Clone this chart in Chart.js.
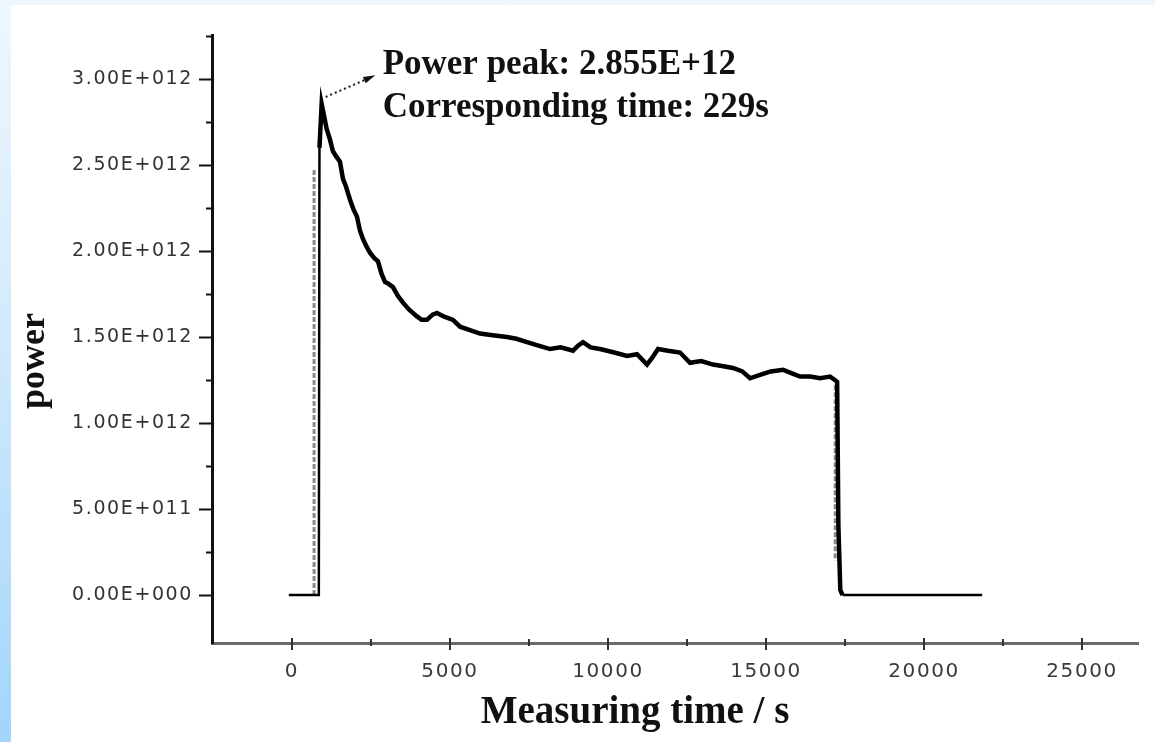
<!DOCTYPE html>
<html><head><meta charset="utf-8">
<script src="https://cdn.jsdelivr.net/npm/chart.js@4.4.0/dist/chart.umd.min.js"></script>
<style>
html,body{margin:0;padding:0;width:1155px;height:742px;overflow:hidden;}
body{background:linear-gradient(to bottom,#eef7fe 0%,#d2eafc 45%,#a2d5fb 100%);position:relative;}
#panel{position:absolute;left:11px;top:5px;right:0;bottom:0;background:#fff;}
#wrap{position:absolute;left:0;top:0;width:1155px;height:742px;}
</style></head><body>
<div id="panel"></div>
<div id="wrap"><canvas id="c"></canvas></div>
<script>
// Measured power curve (time in s, power in units of 1E+12)
const timeS = [-100, 820, 850, 870, 940, 1000, 1098, 1200, 1297, 1400, 1519, 1614, 1700, 1835, 1950, 2057, 2150, 2247, 2350, 2468,
  2600, 2722, 2830, 2943, 3050, 3196, 3350, 3513, 3700, 3956, 4100, 4272, 4450, 4589, 4800, 5095, 5317, 5633, 5949, 6350,
  6804, 7100, 7437, 7800, 8165, 8500, 8893, 9050, 9209, 9450, 9747, 10200, 10601, 10918, 11234, 11400, 11582, 11900, 12279, 12595,
  12950, 13323, 13650, 13956, 14250, 14494, 14810, 15150, 15538, 15800, 16076, 16400, 16709, 17025, 17180, 17250, 17290, 17350, 17420, 21840];
const powerE12 = [0, 0, 0, 2.60, 2.855, 2.80, 2.71, 2.65, 2.58, 2.55, 2.52, 2.42, 2.38, 2.30, 2.24, 2.20, 2.12, 2.07, 2.03, 1.99,
  1.96, 1.94, 1.87, 1.82, 1.81, 1.79, 1.74, 1.70, 1.66, 1.62, 1.60, 1.60, 1.63, 1.64, 1.62, 1.60, 1.56, 1.54, 1.52, 1.51,
  1.50, 1.49, 1.47, 1.45, 1.43, 1.44, 1.42, 1.45, 1.47, 1.44, 1.43, 1.41, 1.39, 1.40, 1.34, 1.38, 1.43, 1.42, 1.41, 1.35,
  1.36, 1.34, 1.33, 1.32, 1.30, 1.26, 1.28, 1.30, 1.31, 1.29, 1.27, 1.27, 1.26, 1.27, 1.25, 1.24, 0.40, 0.03, 0, 0];
// Gray (sampled) edges of the rise and the drop
const edgeTimeS = [700, 700, 9000, 17190, 17190];
const edgePowerE12 = [0, 2.48, null, 1.22, 0.2];

const xTickValues = [0, 5000, 10000, 15000, 20000, 25000];
const xTickLabels = ['0', '5000', '10000', '15000', '20000', '25000'];
const xMinorTicks = [2500, 7500, 12500, 17500, 22500];
const yTickValuesE12 = [0, 0.5, 1.0, 1.5, 2.0, 2.5, 3.0];
const yTickLabels = ['0.00E+000', '5.00E+011', '1.00E+012', '1.50E+012', '2.00E+012', '2.50E+012', '3.00E+012'];
const yMinorTicksE12 = [0.25, 0.75, 1.25, 1.75, 2.25, 2.75, 3.25];

const xTitle = 'Measuring time / s';
const yTitle = 'power';
const peakText = ['Power peak: 2.855E+12', 'Corresponding time: 229s'];
const peakTime = 940, peakPowerE12 = 2.855;

const E12 = 1e12;
const mainData = timeS.map((t, i) => ({x: t, y: powerE12[i] * E12}));
const edgeData = edgeTimeS.map((t, i) => ({x: t, y: edgePowerE12[i] === null ? null : edgePowerE12[i] * E12}));

const decor = {
  id: 'decor',
  beforeDraw(chart) { chart.ctx.letterSpacing = '1.6px'; },
  afterDraw(chart) {
    const ctx = chart.ctx, xs = chart.scales.x, ys = chart.scales.y;
    ctx.save();
    ctx.letterSpacing = '0px';
    // y ticks (outside, left)
    ctx.strokeStyle = '#111'; ctx.lineWidth = 2;
    const yAx = xs.left;
    yTickValuesE12.forEach(v => { const p = Math.round(ys.getPixelForValue(v * E12)) + 0.5; ctx.beginPath(); ctx.moveTo(yAx - 13, p); ctx.lineTo(yAx, p); ctx.stroke(); });
    yMinorTicksE12.forEach(v => { const p = Math.round(ys.getPixelForValue(v * E12)) + 0.5; ctx.beginPath(); ctx.moveTo(yAx - 6, p); ctx.lineTo(yAx, p); ctx.stroke(); });
    // x ticks (crossing)
    ctx.strokeStyle = '#333';
    const xAx = ys.bottom;
    xTickValues.forEach(v => { const p = Math.round(xs.getPixelForValue(v)); ctx.beginPath(); ctx.moveTo(p, xAx - 5); ctx.lineTo(p, xAx + 7); ctx.stroke(); });
    xMinorTicks.forEach(v => { const p = Math.round(xs.getPixelForValue(v)); ctx.beginPath(); ctx.moveTo(p, xAx - 4); ctx.lineTo(p, xAx + 3); ctx.stroke(); });
    // axis titles
    ctx.fillStyle = '#111';
    ctx.font = 'bold 39px "Liberation Serif", "Times New Roman", serif';
    ctx.textAlign = 'center'; ctx.textBaseline = 'alphabetic';
    ctx.fillText(xTitle, 635, 723);
    ctx.save();
    ctx.translate(44, 361); ctx.rotate(-Math.PI / 2);
    ctx.font = 'bold 36px "Liberation Serif", "Times New Roman", serif';
    ctx.fillText(yTitle, 0, 0);
    ctx.restore();
    // peak annotation
    const px = xs.getPixelForValue(peakTime), py = ys.getPixelForValue(peakPowerE12 * E12);
    const ax0 = px + 4, ay0 = py - 7, ax1 = px + 50, ay1 = py - 27;
    ctx.strokeStyle = '#222'; ctx.lineWidth = 2; ctx.setLineDash([2, 3]);
    ctx.beginPath(); ctx.moveTo(ax0, ay0); ctx.lineTo(ax1, ay1); ctx.stroke();
    ctx.setLineDash([]);
    const ang = Math.atan2(ay1 - ay0, ax1 - ax0);
    ctx.fillStyle = '#111';
    ctx.beginPath();
    ctx.moveTo(ax1 + 4 * Math.cos(ang), ay1 + 4 * Math.sin(ang));
    ctx.lineTo(ax1 - 8 * Math.cos(ang) - 3.5 * Math.sin(ang), ay1 - 8 * Math.sin(ang) + 3.5 * Math.cos(ang));
    ctx.lineTo(ax1 - 8 * Math.cos(ang) + 3.5 * Math.sin(ang), ay1 - 8 * Math.sin(ang) - 3.5 * Math.cos(ang));
    ctx.closePath(); ctx.fill();
    ctx.font = 'bold 35px "Liberation Serif", "Times New Roman", serif';
    ctx.textAlign = 'left';
    ctx.fillText(peakText[0], px + 61, py - 30);
    ctx.fillText(peakText[1], px + 61, py + 13);
    ctx.restore();
  }
};

new Chart(document.getElementById('c'), {
  type: 'line',
  data: {datasets: [
    {data: mainData, borderColor: '#000', borderWidth: 4.5, pointRadius: 0, tension: 0, borderJoinStyle: 'miter',
     segment: {borderWidth: c => (c.p0.parsed.y === 0 && c.p1.parsed.y === 0) ? 2.5 : (c.p1.parsed.x - c.p0.parsed.x < 40 ? 2.5 : 4.5)}},
    {data: edgeData, borderColor: '#8a8a8a', borderWidth: 3, borderDash: [5, 2], pointRadius: 0, spanGaps: false}
  ]},
  options: {
    responsive: true, maintainAspectRatio: false, animation: false, devicePixelRatio: 1,
    layout: {padding: {left: 0, top: 35, right: 17, bottom: 0}},
    plugins: {legend: {display: false}, tooltip: {enabled: false}},
    scales: {
      x: {type: 'linear', position: 'bottom', min: -2530, max: 26770,
        afterBuildTicks: s => { s.ticks = xTickValues.map(v => ({value: v})); },
        afterFit: s => { s.height = 99; },
        grid: {drawOnChartArea: false, drawTicks: true, tickLength: 7, tickColor: 'rgba(0,0,0,0)'},
        border: {display: true, color: '#6b6b6b', width: 3},
        ticks: {padding: 10, autoSkip: false, maxRotation: 0, color: '#3a3a3a',
          font: {family: 'DejaVu Sans', size: 20}, callback: (v, i) => xTickLabels[i]}},
      y: {type: 'linear', min: -0.279 * E12, max: 3.256 * E12,
        afterBuildTicks: s => { s.ticks = yTickValuesE12.map(v => ({value: v * E12})); },
        afterFit: s => { s.width = 212; },
        grid: {drawOnChartArea: false, drawTicks: true, tickLength: 12, tickColor: 'rgba(0,0,0,0)'},
        border: {display: true, color: '#111', width: 3},
        ticks: {padding: 7, autoSkip: false, color: '#333',
          font: {family: 'DejaVu Sans', size: 19}, callback: (v, i) => yTickLabels[i]}}
    }
  },
  plugins: [decor]
});
</script>
</body></html>
